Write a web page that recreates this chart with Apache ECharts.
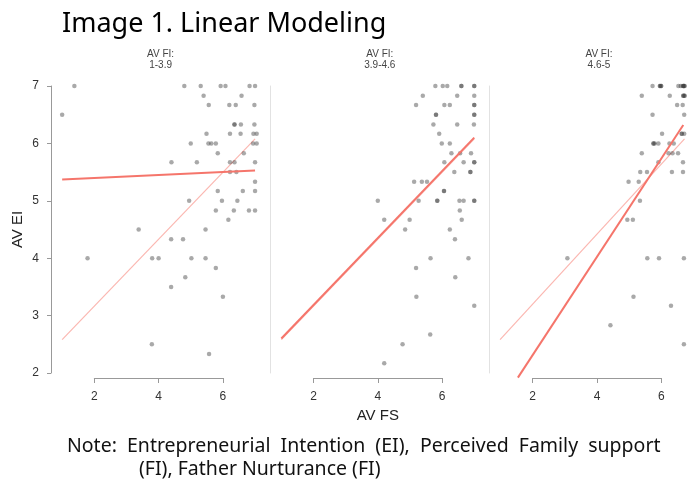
<!DOCTYPE html>
<html><head><meta charset="utf-8">
<script src="https://cdn.jsdelivr.net/npm/echarts@6/dist/echarts.min.js"></script>
<style>html,body{margin:0;padding:0;background:#fff}#c{width:699px;height:482px}</style>
</head><body><div id="c"></div>
<script>
// ---- data ----
const panelLabels = ['1-3.9', '3.9-4.6', '4.6-5'];
const xTicks = [2, 4, 6];
const yTicks = [2, 3, 4, 5, 6, 7];

const panel1Points = [
  [1.38,7],[4.8,7],[5.31,7],[5.93,7],[6.08,7],[6.83,7],[7,7],
  [5.4,6.83],[6.58,6.83],
  [5.56,6.67],[6.2,6.67],[6.4,6.67],[6.98,6.67],
  [1,6.5],
  [6.36,6.33],[6.36,6.33],[6.56,6.33],[6.98,6.33],
  [5.49,6.17],[6.22,6.17],[6.55,6.17],[6.95,6.17],[7.05,6.17],
  [5,6],[5.55,6],[5.64,6],[5.78,6],[6.94,6],[7.05,6],
  [5.84,5.83],[6.65,5.83],
  [4.4,5.67],[5.19,5.67],[6.22,5.67],[6.36,5.67],[7,5.67],
  [6.22,5.5],[6.42,5.5],
  [7,5.33],
  [5.84,5.17],[6.62,5.17],[7,5.17],
  [4.95,5],[5.97,5],[6.45,5],
  [5.78,4.83],[6.34,4.83],[6.81,4.83],[7,4.83],
  [6.17,4.67],
  [3.38,4.5],[5.46,4.5],
  [4.39,4.33],[4.76,4.33],
  [1.79,4],[3.8,4],[4,4],[5.02,4],[5.46,4],
  [5.78,3.83],[4.83,3.67],[4.39,3.5],[6,3.33],[3.79,2.5],[5.57,2.33]
];
const panel2Points = [
  [5.79,7],[6.02,7],[6.16,7],[6.6,7],[6.6,7],[7,7],[7,7],
  [5.4,6.83],[6.47,6.83],[7,6.83],
  [5.19,6.67],[6.07,6.67],[6.24,6.67],[7,6.67],[7,6.67],
  [5.81,6.5],[5.81,6.5],[7,6.5],[7,6.5],
  [5.73,6.33],[6.47,6.33],[6.99,6.33],
  [5.91,6.17],
  [5.99,6],[6.24,6],
  [6.29,5.83],[6.56,5.83],[6.9,5.83],
  [6.07,5.67],[6.67,5.67],[7,5.67],[7,5.67],
  [6.38,5.5],[6.88,5.5],[6.88,5.5],
  [5.13,5.33],[5.37,5.33],[5.53,5.33],
  [6.06,5.17],[6.06,5.17],
  [4,5],[5.27,5],[5.85,5],[5.85,5],[6.54,5],[6.67,5],[7,5],[7,5],
  [6.55,4.83],
  [4.2,4.67],[4.99,4.67],[6.61,4.67],
  [4.85,4.5],[6.24,4.5],
  [6.4,4.33],
  [5.64,4],[6.82,4],
  [5.19,3.83],[6.41,3.67],[5.2,3.33],[7,3.17],[5.63,2.67],[4.77,2.5],[4.2,2.17]
];
const panel3Points = [
  [5.96,7],[6.2,7],[6.2,7],[6.24,7],[6.24,7],[6.8,7],[6.88,7],[6.96,7],[6.96,7],[6.96,7],[7,7],[7,7],
  [5.61,6.83],[6.52,6.83],[6.96,6.83],[6.96,6.83],[7,6.83],[7,6.83],
  [6.76,6.67],[6.94,6.67],
  [5.96,6.5],[6.99,6.5],
  [6.27,6.17],[6.91,6.17],[6.91,6.17],[6.99,6.17],
  [5.99,6],[5.99,6],[6.03,6],[6.15,6],[6.51,6],[6.65,6],
  [5.61,5.83],[6.48,5.83],[6.61,5.83],[6.79,5.83],
  [6.15,5.67],[6.95,5.67],
  [5.56,5.5],[5.78,5.5],[6.59,5.5],[6.95,5.5],
  [5.18,5.33],[5.51,5.33],
  [5.55,5],
  [5.14,4.67],[5.32,4.67],
  [3.19,4],[5.79,4],[6.17,4],[6.98,4],
  [5.34,3.33],[6.56,3.17],[4.59,2.83],[6.98,2.5]
];
const pooledLine = [[1, 2.58], [7, 6.08]];
const fitLine1 = [[1, 5.37], [7, 5.53]];
const fitLine2 = [[1, 2.6], [7, 6.1]];
const fitLine3 = [[1.58, 1.92], [6.96, 6.32]];

const panels = [panel1Points, panel2Points, panel3Points];
const fits = [fitLine1, fitLine2, fitLine3];

// ---- layout ----
const PW = 219.2, L0 = 51, TOP = 86, H = 287;
const UNIT = 32.15, X2OFF = 43.3;
const XMIN = 2 - X2OFF / UNIT, XMAX = XMIN + PW / UNIT;
const tickFont = {fontFamily: 'Liberation Sans', fontSize: 12, color: '#333'};

const grid = [], xAxis = [], yAxis = [], series = [], title = [];
title.push({text: 'Image 1. Linear Modeling', left: 57, top: 6,
  textStyle: {fontFamily: 'Noto Sans', fontSize: 27, fontWeight: 'normal', color: '#000'}});
for (let i = 0; i < 3; i++) {
  const left = L0 + i * PW;
  grid.push({left: left, top: TOP, width: PW, height: H});
  xAxis.push({gridIndex: i, type: 'value', min: XMIN, max: XMAX, show: false});
  yAxis.push({gridIndex: i, type: 'value', min: 2, max: 7, interval: 1,
    axisLine: {show: true, lineStyle: {color: i === 0 ? '#999' : '#e2e2e2', width: 1}},
    axisTick: {show: i === 0, length: 4, lineStyle: {color: '#999'}},
    axisLabel: Object.assign({show: i === 0, margin: 12}, tickFont),
    splitLine: {show: false},
    name: i === 0 ? 'AV EI' : '', nameLocation: 'middle', nameGap: 26, nameRotate: 90,
    nameTextStyle: {fontFamily: 'Liberation Sans', fontSize: 15, color: '#222'}});
  title.push({text: 'AV FI:\n' + panelLabels[i], left: left + X2OFF + 2 * UNIT - 3, top: 43, textAlign: 'center',
    textStyle: {fontFamily: 'Liberation Sans', fontSize: 10, fontWeight: 'normal', color: '#444', lineHeight: 11.5}});
}
for (let i = 0; i < 3; i++) {
  const left = L0 + i * PW + X2OFF;
  grid.push({left: left, top: 377, width: 4 * UNIT, height: 1});
  xAxis.push({gridIndex: 3 + i, type: 'value', min: xTicks[0], max: xTicks[xTicks.length - 1], interval: 2,
    axisLine: {show: true, lineStyle: {color: '#999'}},
    axisTick: {show: true, length: 5, lineStyle: {color: '#999'}},
    axisLabel: Object.assign({margin: 13}, tickFont),
    splitLine: {show: false},
    name: i === 1 ? 'AV FS' : '', nameLocation: 'middle', nameGap: 30,
    nameTextStyle: {fontFamily: 'Liberation Sans', fontSize: 15, color: '#222'}});
  yAxis.push({gridIndex: 3 + i, type: 'value', show: false});
}
for (let i = 0; i < 3; i++) {
  series.push({type: 'line', xAxisIndex: i, yAxisIndex: i, data: pooledLine, symbol: 'none',
    lineStyle: {color: '#fbb7b1', width: 1.2}, silent: true, z: 2});
  series.push({type: 'scatter', xAxisIndex: i, yAxisIndex: i, data: panels[i], symbolSize: 4.5,
    itemStyle: {color: 'rgba(60,60,60,0.55)'}, z: 3});
  series.push({type: 'line', xAxisIndex: i, yAxisIndex: i, data: fits[i], symbol: 'none', clip: false,
    lineStyle: {color: '#f5756b', width: 2}, silent: true, z: 4});
}
title.push({text: 'Note:  Entrepreneurial  Intention  (EI),  Perceived  Family  support', left: 62, top: 431,
  textStyle: {fontFamily: 'Noto Sans', fontSize: 19.5, fontWeight: 'normal', color: '#111'}});
title.push({text: '(FI), Father Nurturance (FI)', left: 134, top: 454,
  textStyle: {fontFamily: 'Noto Sans', fontSize: 19.5, fontWeight: 'normal', color: '#111'}});

const chart = echarts.init(document.getElementById('c'), null, {renderer: 'canvas'});
chart.setOption({animation: false, backgroundColor: '#fff', title, grid, xAxis, yAxis, series});
</script></body></html>
